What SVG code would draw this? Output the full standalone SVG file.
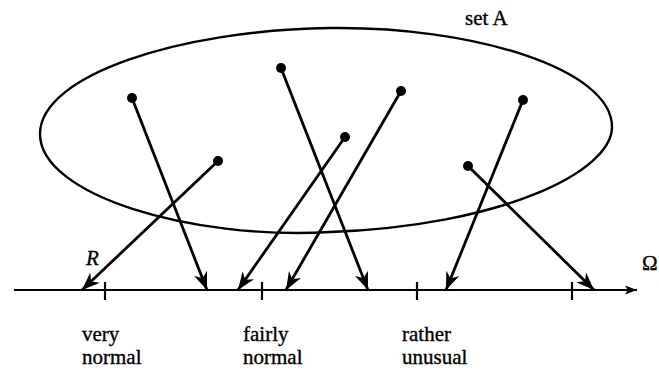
<svg xmlns="http://www.w3.org/2000/svg" width="659" height="370" viewBox="0 0 659 370">
<style>
.ln{stroke:#000;stroke-width:2.8;fill:none}
.ax{stroke:#000;stroke-width:2.2;fill:none}
.dot{fill:#000}
.t{font-family:"Liberation Serif",serif;font-size:21px;fill:#000;stroke:#000;stroke-width:0.35}
</style>
<defs>
<marker id="ah" markerUnits="userSpaceOnUse" markerWidth="22" markerHeight="18" refX="0" refY="0" viewBox="-19 -9 21 18" orient="auto">
<path d="M0,0 L-18,-7 L-12.5,0 L-18,7 Z" fill="#000"/>
</marker>
<marker id="axh" markerUnits="userSpaceOnUse" markerWidth="16" markerHeight="12" refX="0" refY="0" viewBox="-14 -6 16 12" orient="auto">
<path d="M0,0 L-12,-4.5 L-9,0 L-12,4.5 Z" fill="#000"/>
</marker>
</defs>
<g id="setA">
<path class="ln" style="stroke-width:2.4" d="M40,134 C40,75 180,30 330,28 C470,26 612,68 612,127 C612,172 500,226 330,232 C190,240 40,195 40,134 Z"/>
<text class="t" x="465" y="25">set A</text>
</g>
<g id="axis">
<line class="ax" x1="14" y1="290" x2="637" y2="290" marker-end="url(#axh)"/>
<line class="ax" x1="105" y1="282" x2="105" y2="300"/>
<line class="ax" x1="262" y1="282" x2="262" y2="300"/>
<line class="ax" x1="417" y1="282" x2="417" y2="300"/>
<line class="ax" x1="572" y1="282" x2="572" y2="300"/>
<text class="t" x="642" y="270">Ω</text>
</g>
<g id="label-very-normal"><text class="t" x="82" y="341">very</text><text class="t" x="82" y="364">normal</text></g>
<g id="label-fairly-normal"><text class="t" x="243" y="341">fairly</text><text class="t" x="243" y="364">normal</text></g>
<g id="label-rather-unusual"><text class="t" x="402" y="341">rather</text><text class="t" x="402" y="364">unusual</text></g>
<g id="points">
<circle class="dot" cx="132" cy="98" r="5"/>
<circle class="dot" cx="218" cy="161" r="5"/>
<circle class="dot" cx="281" cy="68" r="5"/>
<circle class="dot" cx="345" cy="137" r="5"/>
<circle class="dot" cx="401" cy="91" r="5"/>
<circle class="dot" cx="523" cy="100" r="5"/>
<circle class="dot" cx="468" cy="166" r="5"/>
</g>
<g id="connectors">
<line class="ln" x1="132" y1="98" x2="207" y2="290" marker-end="url(#ah)"/>
<line class="ln" x1="218" y1="161" x2="82" y2="290" marker-end="url(#ah)"/>
<line class="ln" x1="281" y1="68" x2="368" y2="290" marker-end="url(#ah)"/>
<line class="ln" x1="345" y1="137" x2="238" y2="290" marker-end="url(#ah)"/>
<line class="ln" x1="401" y1="91" x2="286" y2="290" marker-end="url(#ah)"/>
<line class="ln" x1="523" y1="100" x2="446" y2="290" marker-end="url(#ah)"/>
<line class="ln" x1="468" y1="166" x2="594" y2="290" marker-end="url(#ah)"/>
<text class="t" x="86" y="265" font-style="italic">R</text>
</g>
</svg>
